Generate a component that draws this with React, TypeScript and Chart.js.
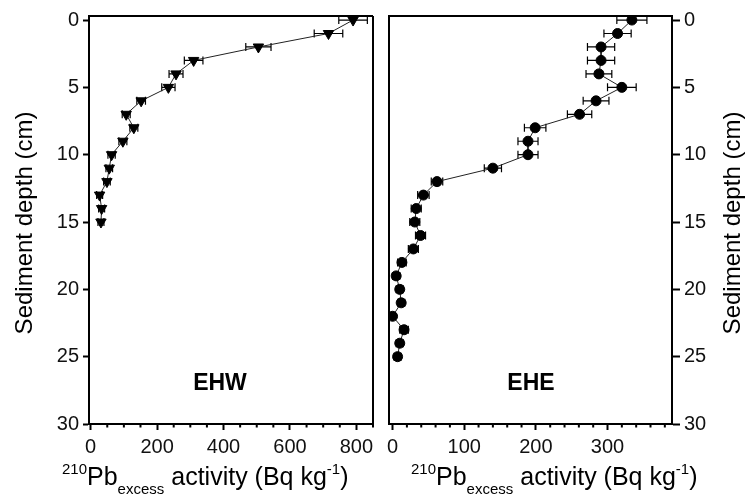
import React, { useEffect, useRef } from "react";
import { Chart, registerables } from "chart.js";
Chart.register(...registerables);

// ---- Data ----
const depthEHW = [0, 1, 2, 3, 4, 5, 6, 7, 8, 9, 10, 11, 12, 13, 14, 15];
const activityEHW = [790, 716, 505, 310, 257, 234, 152, 107, 130, 97, 63, 56, 49, 27, 33, 31];
const errorEHW = [43, 43, 38, 28, 21, 20, 13, 12, 12, 12, 11, 10, 10, 9, 9, 9];

const depthEHE = [0, 1, 2, 3, 4, 5, 6, 7, 8, 9, 10, 11, 12, 13, 14, 15, 16, 17, 18, 19, 20, 21, 22, 23, 24, 25];
const activityEHE = [334, 314, 291, 291, 288, 320, 284, 261, 199, 189, 189, 140, 62, 43, 33, 31, 39, 29, 13, 5, 10, 12, 0, 16, 10, 7];
const errorEHE = [21, 19, 19, 19, 18, 20, 18, 17, 15, 14, 14, 12, 8, 8, 7, 7, 7, 7, 6, 5, 5, 5, 4, 6, 5, 5];

const depthTicks = [0, 5, 10, 15, 20, 25, 30];
const ehwMajorTicks = [0, 200, 400, 600, 800];
const ehwMinorTicks = [50, 100, 150, 250, 300, 350, 450, 500, 550, 650, 700, 750, 850];
const eheMajorTicks = [0, 100, 200, 300];
const eheMinorTicks = [20, 40, 60, 80, 120, 140, 160, 180, 220, 240, 260, 280, 320, 340, 360, 380];

const FONT = "'Liberation Sans', Arial, sans-serif";

type PanelCfg = {
  label: string;
  depth: number[];
  values: number[];
  errors: number[];
  xMin: number;
  xMax: number;
  major: number[];
  minor: number[];
  yPos: "left" | "right";
  pointStyle: string;
  rotation: number;
  radius: number;
  canvasLeft: number;
  canvasWidth: number;
  padding: { left: number; right: number; top: number; bottom: number };
  yWidth: number;
  yTitleX: number;
  xTitleX: number;
  panelLabelX: number;
  tickLen: number;
};

const panels: PanelCfg[] = [
  {
    label: "EHW",
    depth: depthEHW,
    values: activityEHW,
    errors: errorEHW,
    xMin: -5,
    xMax: 850,
    major: ehwMajorTicks,
    minor: ehwMinorTicks,
    yPos: "left",
    pointStyle: "triangle",
    rotation: 180,
    radius: 6,
    canvasLeft: 0,
    canvasWidth: 381,
    padding: { left: 0, right: 8, top: 12, bottom: 0 },
    yWidth: 89,
    yTitleX: 25,
    xTitleX: 62,
    panelLabelX: 220,
    tickLen: 6,
  },
  {
    label: "EHE",
    depth: depthEHE,
    values: activityEHE,
    errors: errorEHE,
    xMin: -5,
    xMax: 390,
    major: eheMajorTicks,
    minor: eheMinorTicks,
    yPos: "right",
    pointStyle: "circle",
    rotation: 0,
    radius: 5,
    canvasLeft: 381,
    canvasWidth: 374,
    padding: { left: 8, right: 0, top: 12, bottom: 0 },
    yWidth: 83,
    yTitleX: 733,
    xTitleX: 411,
    panelLabelX: 531,
    tickLen: 8,
  },
];

function makePlugin(cfg: PanelCfg) {
  return {
    id: "panelExtras" + cfg.label,
    beforeDatasetsDraw(chart: any) {
      const ctx = chart.ctx;
      const xs = chart.scales.x;
      const ys = chart.scales.y;
      ctx.save();
      ctx.strokeStyle = "#000";
      ctx.lineWidth = 1.2;
      cfg.values.forEach((v, i) => {
        const e = cfg.errors[i];
        const y = ys.getPixelForValue(cfg.depth[i]);
        const x1 = xs.getPixelForValue(v - e);
        const x2 = xs.getPixelForValue(v + e);
        ctx.beginPath();
        ctx.moveTo(x1, y);
        ctx.lineTo(x2, y);
        ctx.moveTo(x1, y - 4);
        ctx.lineTo(x1, y + 4);
        ctx.moveTo(x2, y - 4);
        ctx.lineTo(x2, y + 4);
        ctx.stroke();
      });
      ctx.restore();
    },
    afterDraw(chart: any) {
      const ctx = chart.ctx;
      const a = chart.chartArea;
      const xs = chart.scales.x;
      const off = cfg.canvasLeft;
      ctx.save();
      // frame
      ctx.strokeStyle = "#000";
      ctx.lineWidth = 2;
      ctx.beginPath();
      ctx.moveTo(a.left - 1, a.top);
      ctx.lineTo(a.right, a.top);
      if (cfg.yPos === "left") {
        ctx.moveTo(a.right, a.top);
        ctx.lineTo(a.right, a.bottom);
      } else {
        ctx.moveTo(a.left, a.top);
        ctx.lineTo(a.left, a.bottom);
      }
      ctx.stroke();
      // minor ticks
      ctx.lineWidth = 2;
      ctx.beginPath();
      cfg.minor.forEach((v) => {
        const x = xs.getPixelForValue(v);
        ctx.moveTo(x, a.bottom);
        ctx.lineTo(x, a.bottom + 3.5);
      });
      ctx.stroke();
      // y title
      ctx.fillStyle = "#000";
      ctx.font = `24px ${FONT}`;
      ctx.textAlign = "center";
      ctx.textBaseline = "middle";
      ctx.save();
      ctx.translate(cfg.yTitleX - off, (a.top + a.bottom) / 2 + 3);
      ctx.rotate(-Math.PI / 2);
      ctx.fillText("Sediment depth (cm)", 0, 0);
      ctx.restore();
      // panel label
      ctx.font = `bold 23px ${FONT}`;
      ctx.fillText(cfg.label, cfg.panelLabelX - off, 384);
      // x title with super/subscripts
      ctx.textAlign = "left";
      ctx.textBaseline = "alphabetic";
      const segs = [
        { t: "210", size: 15, dy: -11 },
        { t: "Pb", size: 25, dy: 0 },
        { t: "excess", size: 15, dy: 9 },
        { t: " activity (Bq kg", size: 25, dy: 0 },
        { t: "-1", size: 15, dy: -11 },
        { t: ")", size: 25, dy: 0 },
      ];
      let cx = cfg.xTitleX - off;
      const base = 485;
      segs.forEach((s) => {
        ctx.font = `${s.size}px ${FONT}`;
        ctx.fillText(s.t, cx, base + s.dy);
        cx += ctx.measureText(s.t).width;
      });
      ctx.restore();
    },
  };
}

function Panel({ cfg }: { cfg: PanelCfg }) {
  const ref = useRef<HTMLCanvasElement>(null);
  useEffect(() => {
    if (!ref.current) return;
    const data = cfg.depth.map((d, i) => ({ x: cfg.values[i], y: d }));
    const tickFont = { family: FONT, size: 20 };
    const chart = new Chart(ref.current, {
      type: "scatter",
      data: {
        datasets: [
          {
            data,
            showLine: true,
            borderColor: "#222",
            borderWidth: 1,
            pointStyle: cfg.pointStyle as any,
            rotation: cfg.rotation,
            pointRadius: cfg.radius,
            pointBackgroundColor: "#000",
            pointBorderColor: "#000",
            pointBorderWidth: 1,
          },
        ],
      },
      options: {
        animation: false,
        responsive: false,
        events: [],
        layout: { padding: cfg.padding },
        plugins: { legend: { display: false }, tooltip: { enabled: false } },
        scales: {
          x: {
            type: "linear",
            position: "bottom",
            min: cfg.xMin,
            max: cfg.xMax,
            afterBuildTicks: (s: any) => {
              s.ticks = cfg.major.map((v) => ({ value: v }));
            },
            afterFit: (s: any) => {
              s.height = 80;
            },
            grid: { drawOnChartArea: false, tickLength: 6, tickWidth: 2, tickColor: "#000" },
            border: { color: "#000", width: 2 },
            ticks: { color: "#111", font: tickFont, padding: 5, maxRotation: 0, autoSkip: false },
          },
          y: {
            type: "linear",
            position: cfg.yPos,
            reverse: true,
            min: -0.3,
            max: 30,
            afterBuildTicks: (s: any) => {
              s.ticks = depthTicks.map((v) => ({ value: v }));
            },
            afterFit: (s: any) => {
              s.width = cfg.yWidth;
            },
            grid: { drawOnChartArea: false, tickLength: cfg.tickLen, tickWidth: 2, tickColor: "#000" },
            border: { color: "#000", width: 2 },
            ticks: { color: "#111", font: tickFont, padding: 4, autoSkip: false },
          },
        },
      },
      plugins: [makePlugin(cfg)],
    } as any);
    return () => chart.destroy();
  }, [cfg]);
  return (
    <canvas
      ref={ref}
      width={cfg.canvasWidth}
      height={504}
      style={{ position: "absolute", left: cfg.canvasLeft, top: 0, width: cfg.canvasWidth, height: 504 }}
    />
  );
}

export default function App() {
  return (
    <div style={{ position: "absolute", left: 0, top: 0, width: 755, height: 504, background: "#fff" }}>
      {panels.map((p) => (
        <Panel key={p.label} cfg={p} />
      ))}
    </div>
  );
}
